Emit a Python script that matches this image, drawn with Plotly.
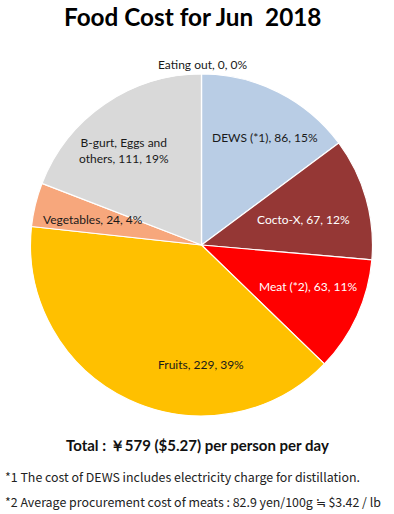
import plotly.graph_objects as go

title_text = "Food Cost for Jun  2018"
categories = ["DEWS (*1)", "Cocto-X", "Meat (*2)", "Fruits", "Vegetables",
              "B-gurt, Eggs and<br>others", "Eating out"]
values = [86, 67, 63, 229, 24, 111, 0]
percents = ["15%", "12%", "11%", "39%", "4%", "19%", "0%"]
colors = ["#B9CDE5", "#953735", "#FF0000", "#FFC000", "#F7A77C", "#D9D9D9", "#C6D9F1"]
label_colors = ["#1a1a1a", "#ffffff", "#ffffff", "#1a1a1a", "#1a1a1a", "#1a1a1a", "#1a1a1a"]
# label anchor positions in pixels (x, y from top)
label_pos = [(265, 138), (303, 219), (308, 286), (201, 364), (93, 219), (124, 150), (202, 64)]
total_text = "Total : ￥579 ($5.27) per person per day"
notes = ["*1 The cost of DEWS includes electricity charge for distillation.",
         "*2 Average procurement cost of meats : 82.9 yen/100g ≒ $3.42 / lb"]

W, H = 394, 514

fig = go.Figure(go.Pie(
    labels=categories,
    values=values,
    sort=False,
    direction="clockwise",
    rotation=0,
    marker=dict(colors=colors, line=dict(color="white", width=1.2)),
    textinfo="none",
    hoverinfo="label+value+percent",
    showlegend=False,
    domain=dict(x=[30 / W, 373 / W], y=[1 - 416 / H, 1 - 74 / H]),
))

ann = []
for cat, v, p, (px, py), c in zip(categories, values, percents, label_pos, label_colors):
    ann.append(dict(
        text=f"{cat}, {v}, {p}", x=px / W, y=1 - py / H, xref="paper", yref="paper",
        showarrow=False, xanchor="center", yanchor="middle", align="center",
        font=dict(family="Lato", size=12, color=c),
    ))

ann.append(dict(text=f"<b>{title_text}</b>", x=192 / W, y=1 - 17 / H, xref="paper", yref="paper",
                showarrow=False, xanchor="center", yanchor="middle",
                font=dict(family="Lato", size=24.3, color="black")))
ann.append(dict(text=f"<b>{total_text}</b>", x=198 / W, y=1 - 445 / H, xref="paper", yref="paper",
                showarrow=False, xanchor="center", yanchor="middle",
                font=dict(family="Lato", size=15, color="#111111")))
for i, (n, yy) in enumerate(zip(notes, [477, 502])):
    ann.append(dict(text=n, x=3 / W, y=1 - yy / H, xref="paper", yref="paper",
                    showarrow=False, xanchor="left", yanchor="middle",
                    font=dict(family="Noto Sans CJK JP", size=12.4, color="#222222")))

fig.update_layout(
    width=W, height=H,
    margin=dict(l=0, r=0, t=0, b=0),
    paper_bgcolor="white",
    plot_bgcolor="white",
    annotations=ann,
)

fig.write_html("out.html", config={"displayModeBar": False},
               post_script="document.body.style.margin='0';document.body.style.overflow='hidden';")
